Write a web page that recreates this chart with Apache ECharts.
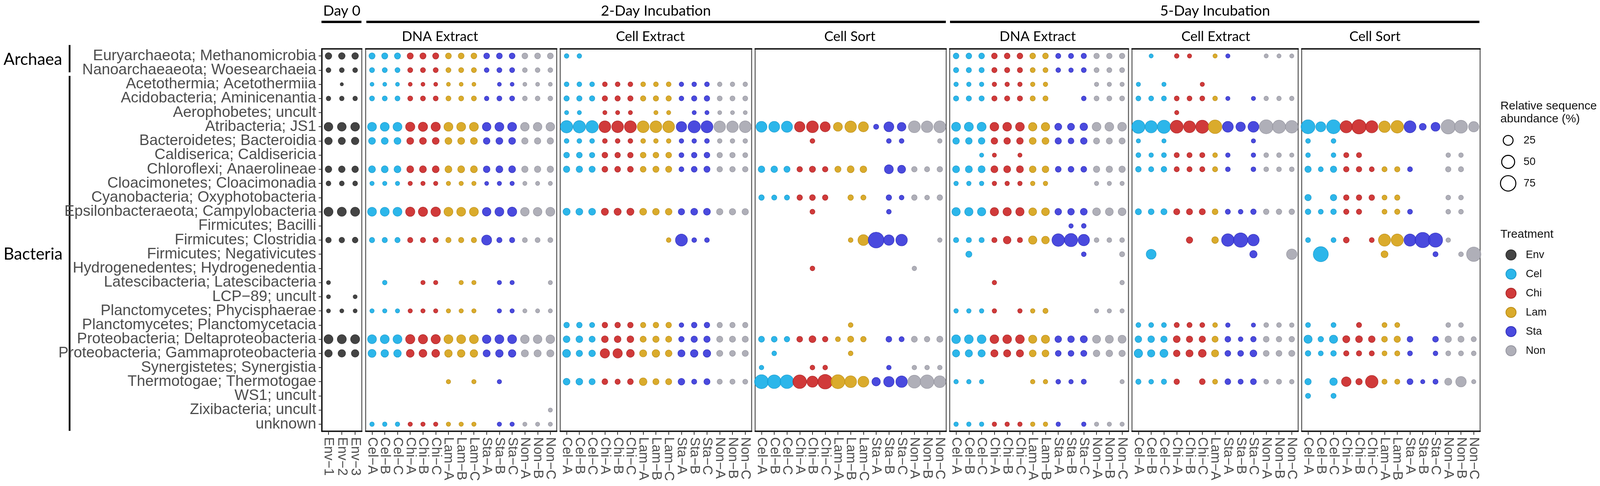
<!DOCTYPE html>
<html><head><meta charset="utf-8">
<script src="https://cdn.jsdelivr.net/npm/echarts@6/dist/echarts.min.js"></script>
<style>html,body{margin:0;padding:0;background:#fff;overflow:hidden}#c{width:100vw;height:100vh}</style>
</head><body><div id="c"></div>
<script>
// ---------- categories ----------
const rowNames = [
 'Euryarchaeota; Methanomicrobia','Nanoarchaeaeota; Woesearchaeia','Acetothermia; Acetothermiia',
 'Acidobacteria; Aminicenantia','Aerophobetes; uncult','Atribacteria; JS1','Bacteroidetes; Bacteroidia',
 'Caldiserica; Caldisericia','Chloroflexi; Anaerolineae','Cloacimonetes; Cloacimonadia',
 'Cyanobacteria; Oxyphotobacteria','Epsilonbacteraeota; Campylobacteria','Firmicutes; Bacilli',
 'Firmicutes; Clostridia','Firmicutes; Negativicutes','Hydrogenedentes; Hydrogenedentia',
 'Latescibacteria; Latescibacteria','LCP\u221289; uncult','Planctomycetes; Phycisphaerae',
 'Planctomycetes; Planctomycetacia','Proteobacteria; Deltaproteobacteria','Proteobacteria; Gammaproteobacteria',
 'Synergistetes; Synergistia','Thermotogae; Thermotogae','WS1; uncult','Zixibacteria; uncult','unknown'];
const colsDay0 = ['Env\u22121','Env\u22122','Env\u22123'];
const cols15 = ['Cel\u2212A','Cel\u2212B','Cel\u2212C','Chi\u2212A','Chi\u2212B','Chi\u2212C','Lam\u2212A','Lam\u2212B','Lam\u2212C','Sta\u2212A','Sta\u2212B','Sta\u2212C','Non\u2212A','Non\u2212B','Non\u2212C'];
const cols14 = ['Cel\u2212A','Cel\u2212B','Cel\u2212C','Chi\u2212A','Chi\u2212B','Chi\u2212C','Lam\u2212A','Lam\u2212B','Sta\u2212A','Sta\u2212B','Sta\u2212C','Non\u2212A','Non\u2212B','Non\u2212C'];
const cols13 = ['Cel\u2212A','Cel\u2212B','Cel\u2212C','Chi\u2212A','Chi\u2212B','Chi\u2212C','Lam\u2212A','Sta\u2212A','Sta\u2212B','Sta\u2212C','Non\u2212A','Non\u2212B','Non\u2212C'];
const treatments = ['Env','Cel','Chi','Lam','Sta','Non'];
const sizeTicks = [25, 50, 75];

// ---------- values: relative sequence abundance (%) ----------
const day0 = [
 [8.6,8.6,8.6],[3.1,3.1,3.1],[0,0.5,0],[2.6,2.6,2.6],[0,0,0],[18.7,18.7,18.7],[12.6,11,12.6],[0,0,0],
 [8.6,8.6,8.6],[3.1,3.1,3.1],[0,0,0],[20.6,20.6,20.6],[0,0,0],[5,5,5.5],[0,0,0],[0,0,0],[1.5,0,0],
 [1.5,0,1.5],[1.5,1.5,1.5],[0,0,0],[20.6,20.6,20.6],[12.6,12.6,12.6],[0,0,0],[0,0,0],[0,0,0],[0,0,0],[0,0,0]];
const dna2 = [
 [7,7,7,7,7,7,6,6,6,6,6,6,6,6,6],
 [3.6,3.6,3.6,3.6,3.6,3.6,3.6,3.6,3.6,3,3.6,3.6,3,3,3],
 [1.4,1.4,1.4,1.4,1.4,1.4,1.4,1.4,1.4,0,1.4,1.4,1.4,1.4,1.4],
 [3.6,3.6,3.6,3.6,3.6,3.6,3.6,3.6,3.6,2.6,3.6,3.6,3,3,3],
 [0,0,0,0,0,0,0,0,0,0,0,0,0,0,0],
 [20,20,20,22,22,22,20,20,20,18,20,20,18,18,18],
 [10,10,10,10,10,10,10,10,10,9,10,10,8,8,8],
 [0,0,0,0,0,0,0,0,0,0,0,0,0,0,0],
 [10,10,10,10,10,10,10,10,10,9,10,10,8,8,8],
 [2.1,2.1,2.1,2.1,2.1,2.1,2.1,2.1,2.1,1.5,2.1,2.1,1.8,1.8,1.8],
 [0,0,0,0,0,0,0,0,0,0,0,0,0,0,0],
 [20,20,20,22,22,24,20,20,20,18,20,22,18,18,20],
 [0,0,0,0,0,0,0,0,0,0,0,0,0,0,0],
 [4.3,4.3,4.3,4.3,4.3,4.3,4.3,4.3,4.3,27,4.3,4.3,3.5,3.5,3.5],
 [0,0,0,0,0,0,0,0,0,0,0,0,0,0,0],
 [0,0,0,0,0,0,0,0,0,0,0,0,0,0,0],
 [0,2.6,0,0,2.1,2.1,0,2.1,2.1,0,2.1,2.1,0,0,1.8],
 [0,0,0,0,0,0,0,0,0,0,0,0,0,0,0],
 [2.1,2.1,2.1,2.1,2.1,2.1,2.1,2.1,2.1,0,2.1,2.1,1.8,1.8,1.8],
 [0,0,0,0,0,0,0,0,0,0,0,0,0,0,0],
 [20,20,20,22,22,22,20,20,20,18,20,20,18,18,18],
 [14.8,13,13,14,14,14,13,13,13,11,13,13,11,11,11],
 [0,0,0,0,0,0,0,0,0,0,0,0,0,0,0],
 [0,0,0,0,0,0,2.1,0,2.1,0,2.1,0,0,0,0],
 [0,0,0,0,0,0,0,0,0,0,0,0,0,0,0],
 [0,0,0,0,0,0,0,0,0,0,0,0,0,0,1.8],
 [2.4,2.4,2.4,2.1,2.1,2.1,2.1,2.1,2.1,0,2.1,2.1,1.8,1.8,1.8]];
const cell2 = [
 [2.6,2.6,0,0,0,0,0,0,0,0,0,0,0,0,0],
 [0,0,0,0,0,0,0,0,0,0,0,0,0,0,0],
 [3.1,3.1,3.1,3.1,3.1,3.1,3.1,3.1,3.1,2.5,2.8,3.1,2.5,2.5,2.5],
 [4.5,4.5,4.5,4.5,4.5,4.5,4.5,4.5,4.5,3,4.5,5,3.5,3.5,3.5],
 [1.8,1.8,0,1.8,1.8,1.8,0,1.8,1.8,0,1.8,1.8,1.5,1.5,1.5],
 [45,45,45,40,40,42,40,40,40,30,44,42,38,38,40],
 [3.1,3.1,3.1,3.1,3.1,3.1,3.1,2.6,2.6,2.6,2.6,3.1,2.6,2.6,2.6],
 [5.7,5.7,4.5,5.7,5,5,5.7,5.7,5.7,3.5,5,5.7,4.5,4.5,3.5],
 [8,8,7,6,6,6,6,7,7,3.5,6,7,5,5,5],
 [0,0,0,0,0,0,0,0,0,0,0,0,0,0,0],
 [0,0,0,0,0,0,0,0,0,0,0,0,0,0,0],
 [11,10,10,11,11,11,10,9,9,8,10,10,8,8,8],
 [0,0,0,0,0,0,0,0,0,0,0,0,0,0,0],
 [0,0,0,0,0,0,0,0,2.8,42,3.1,3.1,0,0,0],
 [0,0,0,0,0,0,0,0,0,0,0,0,0,0,0],
 [0,0,0,0,0,0,0,0,0,0,0,0,0,0,0],
 [0,0,0,0,0,0,0,0,0,0,0,0,0,0,0],
 [0,0,0,0,0,0,0,0,0,0,0,0,0,0,0],
 [0,0,0,0,0,0,0,0,0,0,0,0,0,0,0],
 [5.3,5.3,4,5.3,5.3,5.3,4.5,5.3,5.3,2.8,5.3,5.3,4.5,4.5,4.5],
 [9.4,9.4,7,9.4,9.4,9.4,7,8,7,5,8,8,7,7,7],
 [14.6,8,9,22.7,22.7,14,11,13,9,11,13,13,7,6,7],
 [0,0,0,0,0,0,0,0,0,0,0,0,0,0,0],
 [9.4,9.4,7,6,4.5,6,13.4,7,7,9,4,7,4,4,3.5],
 [0,0,0,0,0,0,0,0,0,0,0,0,0,0,0],
 [0,0,0,0,0,0,0,0,0,0,0,0,0,0,0],
 [0,0,0,0,0,0,0,0,0,0,0,0,0,0,0]];
const sort2 = [
 [0,0,0,0,0,0,0,0,0,0,0,0,0,0,0],
 [0,0,0,0,0,0,0,0,0,0,0,0,0,0,0],
 [0,0,0,0,0,0,0,0,0,0,0,0,0,0,0],
 [0,0,0,0,0,0,0,0,0,0,0,0,0,0,0],
 [0,0,0,0,0,0,0,0,0,0,0,0,0,0,0],
 [33,33,35,30,41,27,20,38,27,4,26,18.5,41,38,41],
 [0,0,0,0,3.1,0,0,0,0,0,3.1,3.1,0,0,2.4],
 [0,0,0,0,0,0,0,0,0,0,0,0,0,0,0],
 [8.8,8.8,7,5,7,5,7,10,9,0,20,14.6,5,4,5],
 [0,0,0,0,0,0,0,0,0,0,0,0,0,0,0],
 [5,4,4,5,6,5,0,5,4,0,5,3,5,3,5],
 [0,0,0,0,3.5,0,0,0,0,0,3,0,0,0,0],
 [0,0,0,0,0,0,0,0,0,0,0,0,0,0,0],
 [0,0,0,0,0,0,0,3,33,80,30,38,0,0,2.4],
 [0,0,0,0,0,0,0,0,0,0,0,0,0,0,0],
 [0,0,0,0,3,0,0,0,0,0,0,0,2.5,0,0],
 [0,0,0,0,0,0,0,0,0,0,0,0,0,0,0],
 [0,0,0,0,0,0,0,0,0,0,0,0,0,0,0],
 [0,0,0,0,0,0,0,0,0,0,0,0,0,0,0],
 [0,0,0,0,0,0,0,3,0,0,0,0,0,0,0],
 [6.5,6,5,6,10,5,3.5,7,5,0,6,4,6.5,5,7],
 [0,3,0,0,0,0,0,3,0,0,0,0,0,0,0],
 [2.6,0,0,0,3,3,0,0,0,0,2.6,0,2.6,2.6,2.6],
 [60,57,57,57,35,67,60,41,33,17,30,38,50,57,41],
 [0,0,0,0,0,0,0,0,0,0,0,0,0,0,0],
 [0,0,0,0,0,0,0,0,0,0,0,0,0,0,0],
 [0,0,0,0,0,0,0,0,0,0,0,0,0,0,0]];
const dna5 = [
 [5.7,5.7,5.7,5.7,5.7,5.7,5.7,5.7,4,4,4.5,5,5,5],
 [4.2,4.2,4.2,4.2,4.2,4.2,3.5,3.5,3,2.5,3.5,3.5,3.5,3.5],
 [2.4,2.4,2.4,2.4,2.4,2.4,2.4,2.4,0,0,0,2,2,2],
 [4.2,4.2,4.2,4.2,4.2,4.2,4,4,0,0,3,3.5,3.5,3.5],
 [0,0,0,0,0,0,0,0,0,0,0,0,0,0],
 [20.4,20.4,20.4,19,19,19,17,17,10.4,10.4,13.4,19,19,19],
 [8.8,8.8,8.8,8.8,8.8,8.8,10,10,8,6,9,7,7,7],
 [0,0,1.8,1.8,0,1.8,0,0,0,0,0,0,0,0],
 [10.4,10.4,10.4,10.4,10.4,10.4,9,9,6,6,6,8,8,8],
 [2.4,2.4,2.4,2.4,2.4,2.4,2.4,2.4,0,0,0,2,2,2],
 [0,0,0,0,0,0,0,0,0,0,0,0,0,0],
 [16.6,16.6,16.6,16.6,16.6,16.6,14,14,9,9,10,14,14,14],
 [0,0,0,0,0,0,0,0,0,2.4,3,0,0,0],
 [4.2,4.2,4.2,4.2,13.4,4.2,16.6,13.4,47,53,37,3,3,3],
 [0,7,0,0,0,0,0,0,0,0,3,0,0,4],
 [0,0,0,0,0,0,0,0,0,0,0,0,0,0],
 [0,0,0,2.4,0,0,0,0,0,0,0,0,0,2.4],
 [0,0,0,0,0,0,0,0,0,0,0,0,0,0],
 [2.4,2.4,2.4,2.4,0,2.4,2.4,4,0,0,0,2,2,2],
 [0,0,0,0,0,0,0,0,0,0,0,0,0,0],
 [19,19,19,19,19,19,16,16,9,9,11,15,15,15],
 [11.5,11.5,11.5,11.5,11.5,11.5,10,10,6,6,7,9,9,8],
 [0,0,0,0,0,0,0,0,0,0,0,0,0,0],
 [2.4,2.4,2.4,0,0,0,2.4,2.4,3,2.4,4,0,0,2],
 [0,0,0,0,0,0,0,0,0,0,0,0,0,0],
 [0,0,0,0,0,0,0,0,0,0,0,0,0,0],
 [2.4,2.4,2.4,2.4,2.4,2.4,2.4,2.4,2.4,0,2.4,2,2,2]];
const cell5 = [
 [0,1.8,0,2.6,2,0,2,2,0,0,1.8,1.8,1.8],
 [0,0,0,0,0,0,0,0,0,0,0,0,0],
 [2,0,2,0,0,2,0,0,0,0,0,0,0],
 [3.4,3.4,3.4,3.4,3.4,3.4,3,2,0,2,2.5,2.5,2.5],
 [0,0,0,2,0,0,0,0,0,0,0,0,0],
 [53,44,53,50,41,52,57,33,23,33,60,52,47],
 [2,0,2,0,0,0,0,0,0,2,0,0,0],
 [3.4,2.5,3.4,4,4,4,3,2.5,0,2.5,3,3,2],
 [5.2,4,5.2,4,4,4,4,3,0,3,3,3,3],
 [0,0,0,0,0,0,0,0,0,0,0,0,0],
 [0,0,0,0,0,0,0,0,0,0,0,0,0],
 [7.1,6,7.1,7.1,7.1,7.1,6,4,3,5,5,5,5],
 [0,0,0,0,0,0,0,0,0,0,0,0,0],
 [0,0,0,0,8,0,9,47,64,38,0,0,0],
 [0,26,0,0,0,0,0,0,0,12,0,0,30],
 [0,0,0,0,0,0,0,0,0,0,0,0,0],
 [0,0,0,0,0,0,0,0,0,0,0,0,0],
 [0,0,0,0,0,0,0,0,0,0,0,0,0],
 [0,0,0,0,0,0,0,0,0,0,0,0,0],
 [3.4,3.4,3.4,4,4,3.4,3,2.5,0,2,3,3,2.5],
 [9,9,8,10,8,8,7,6,3,5,6,5,5],
 [17.2,12,15,9,11,14,11,6,6,10,6,6,7],
 [0,0,0,0,0,0,0,0,0,0,0,0,0],
 [4.4,3,4.4,5,0,6,3.5,6,4,6.5,3,4,2.5],
 [0,0,0,0,0,0,0,0,0,0,0,0,0],
 [0,0,0,0,0,0,0,0,0,0,0,0,0],
 [0,0,0,0,0,0,0,0,0,0,0,0,0]];
const sort5 = [
 [0,0,0,0,0,0,0,0,0,0,0,0,0,0],
 [0,0,0,0,0,0,0,0,0,0,0,0,0,0],
 [0,0,0,0,0,0,0,0,0,0,0,0,0,0],
 [0,0,0,0,0,0,0,0,0,0,0,0,0,0],
 [0,0,0,0,0,0,0,0,0,0,0,0,0,0],
 [60,27,60,44,64,44,38,47,42,10,20,64,50,29],
 [3.1,0,3.1,0,0,0,0,0,0,0,0,0,0,0],
 [3,0,3,4,4,0,0,0,0,0,0,2.6,2.6,0],
 [8,3.5,8,5,5,3.5,4,4.5,3.5,0,0,4.5,4,0],
 [0,0,0,0,0,0,0,0,0,0,0,0,0,0],
 [8,0,8,5,5,5.5,3.5,4.5,0,0,0,3,3,0],
 [5.3,3.5,5.3,4.5,4.5,0,3.5,4.5,3.5,0,0,3,3,0],
 [0,0,0,0,0,0,0,0,0,0,0,0,0,0],
 [3.5,0,3.5,6,0,3.5,43,43,43,75,63,2.6,0,0],
 [0,72,0,0,0,0,10,0,0,0,4,0,3,64],
 [0,0,0,0,0,0,0,0,0,0,0,0,0,0],
 [0,0,0,0,0,0,0,0,0,0,0,0,0,0],
 [0,0,0,0,0,0,0,0,0,0,0,0,0,0],
 [0,0,0,0,0,0,0,0,0,0,0,0,0,0],
 [3.5,0,3.5,0,4,0,3.5,3.5,0,0,0,3,3,0],
 [16,5,16,11,10,9,6,8,6,0,6,8,7,4],
 [5.3,3.5,5.3,4.5,4.5,4,3.5,4,3.5,0,3,3.5,3.5,3],
 [0,0,0,0,0,0,0,0,0,0,0,0,0,0],
 [8,0,13,24,8,47,4,4,6.5,2,4,11,30,2],
 [4,0,4,0,0,0,0,0,0,0,0,0,0,0],
 [0,0,0,0,0,0,0,0,0,0,0,0,0,0],
 [0,0,0,0,0,0,0,0,0,0,0,0,0,0]];

// ---------- styling / layout (measured in the 4564x1243 picture, mapped to the viewport) ----------
const el = document.getElementById('c');
const VW = window.innerWidth || 4564, VH = window.innerHeight || 1243;
const sx = VW / 4564, sy = VH / 1243;
const X = v => v * sx, Y = v => v * sy;
const colors  = {Env:'#363636', Cel:'#1cb0e8', Chi:'#cc2b2b', Lam:'#d7a51c', Sta:'#3c3cdc', Non:'#a9a9b3'};
const borders = {Env:'#262626', Cel:'#1596c8', Chi:'#a92020', Lam:'#b8890f', Sta:'#2b2bb8', Non:'#8f8f9a'};
const SZ = v => (6.3 + 4.34 * Math.sqrt(v)) * sx;   // circle diameter
const TOP = 125, H = 978;
const panels = [
  {cols: colsDay0, vals: day0,  left: 918,  width: 114},
  {cols: cols15,   vals: dna2,  left: 1043, width: 545},
  {cols: cols15,   vals: cell2, left: 1598, width: 546},
  {cols: cols15,   vals: sort2, left: 2154, width: 545},
  {cols: cols14,   vals: dna5,  left: 2709, width: 510},
  {cols: cols13,   vals: cell5, left: 3229, width: 474},
  {cols: cols14,   vals: sort5, left: 3713, width: 509}
];

const grid = [], xAxis = [], yAxis = [], series = [];
panels.forEach((p, pi) => {
  grid.push({left: X(p.left), top: Y(TOP), width: X(p.width), height: Y(H), show: true,
             borderColor: '#555', borderWidth: 2.5, backgroundColor: 'transparent'});
  xAxis.push({type: 'category', gridIndex: pi, data: p.cols, boundaryGap: true,
    axisLine: {show: true, lineStyle: {color: '#111', width: 3.5}},
    axisTick: {show: true, alignWithLabel: true, length: Y(9), lineStyle: {color: '#333', width: 2}},
    axisLabel: {rotate: -90, fontSize: 34.5 * sy, fontFamily: 'Liberation Sans', color: '#4d4d4d', margin: Y(15), interval: 0},
    splitLine: {show: false}});
  yAxis.push({type: 'category', gridIndex: pi, data: rowNames, inverse: true, boundaryGap: true,
    axisLine: {show: pi === 0, lineStyle: {color: '#111', width: 3.5}},
    axisTick: {show: pi === 0, alignWithLabel: true, length: X(9), lineStyle: {color: '#333', width: 2}},
    axisLabel: {show: pi === 0, fontSize: 38.8 * sy, fontFamily: 'Liberation Sans', color: '#4d4d4d', margin: X(16), interval: 0},
    splitLine: {show: false}});
  const ts = treatments.filter(t => p.cols.some(c => c.startsWith(t)));
  ts.forEach(t => {
    const data = [];
    p.vals.forEach((row, ri) => row.forEach((v, ci) => {
      if (v > 0 && p.cols[ci].startsWith(t)) data.push([ci, ri, v]);
    }));
    series.push({type: 'scatter', name: t, xAxisIndex: pi, yAxisIndex: pi, data,
      symbol: 'circle',
      symbolSize: val => SZ(val[2]),
      itemStyle: {color: colors[t], opacity: 0.93, borderColor: borders[t], borderWidth: 1.1},
      emphasis: {disabled: true}, silent: true, animation: false});
  });
});
// thick top edge of every panel
panels.forEach((p, pi) => {
  xAxis.push({type: 'category', gridIndex: pi, data: p.cols, position: 'top',
    axisLine: {show: true, lineStyle: {color: '#111', width: 3.5}},
    axisTick: {show: false}, axisLabel: {show: false}, splitLine: {show: false}});
});

// ---------- strip labels, group brackets, size legend ----------
const T = (text, x, y, size, family, align, color) => ({type: 'text', silent: true, style: {
  text, x: X(x), y: Y(y), font: (size * sy) + 'px ' + family, fill: color || '#000',
  textAlign: align || 'center', textVerticalAlign: 'middle', align: align || 'center', verticalAlign: 'middle'}});
const R = (x, y, w, h) => ({type: 'rect', silent: true, shape: {x: X(x), y: Y(y), width: X(w), height: Y(h)}, style: {fill: '#000'}});
const g = [
  T('Day 0', 975, 28, 37, 'Lato'),
  T('2-Day Incubation', 1871, 28, 37, 'Lato'),
  T('5-Day Incubation', 3466, 28, 37, 'Lato'),
  R(917, 53, 114, 6), R(1045, 53, 1653, 6), R(2710, 53, 1510, 6),
  T('DNA Extract', 1255, 94, 35, 'Lato'),
  T('Cell Extract', 1855, 94, 35, 'Lato'),
  T('Cell Sort', 2424, 94, 35, 'Lato'),
  T('DNA Extract', 2960, 94, 35, 'Lato'),
  T('Cell Extract', 3468, 94, 35, 'Lato'),
  T('Cell Sort', 3922, 94, 35, 'Lato'),
  T('Archaea', 10, 152, 42, 'Lato', 'left'),
  T('Bacteria', 10, 650, 42, 'Lato', 'left'),
  R(196, 115, 5, 70), R(196, 194, 5, 908),
  T('Relative sequence', 4280, 272, 30, '"Liberation Sans"', 'left', '#111'),
  T('abundance (%)', 4280, 305, 30, '"Liberation Sans"', 'left', '#111'),
  T('Treatment', 4280, 600, 30, '"Liberation Sans"', 'left', '#111')
];
sizeTicks.forEach((v, i) => {
  const d = SZ(v), cy = 359 + i * 55;
  g.push({type: 'circle', silent: true, shape: {cx: X(4302), cy: Y(cy), r: d / 2},
          style: {fill: 'none', stroke: '#000', lineWidth: 2.6}});
  g.push(T(String(v), 4346, cy, 27.5, '"Liberation Sans"', 'left', '#111'));
});

const chart = echarts.init(el, null, {renderer: 'canvas'});
chart.setOption({
  backgroundColor: '#fff',
  animation: false,
  grid, xAxis, yAxis, series,
  legend: {show: true, data: treatments, orient: 'vertical', left: X(4289), top: Y(633),
    icon: 'circle', itemWidth: X(29), itemHeight: X(29), itemGap: Y(47) - X(29), selectedMode: false,
    textStyle: {fontFamily: 'Liberation Sans', fontSize: 27.5 * sy, color: '#111', padding: [0, 0, 0, X(22)], lineHeight: X(29)}},
  graphic: g
});
</script></body></html>
